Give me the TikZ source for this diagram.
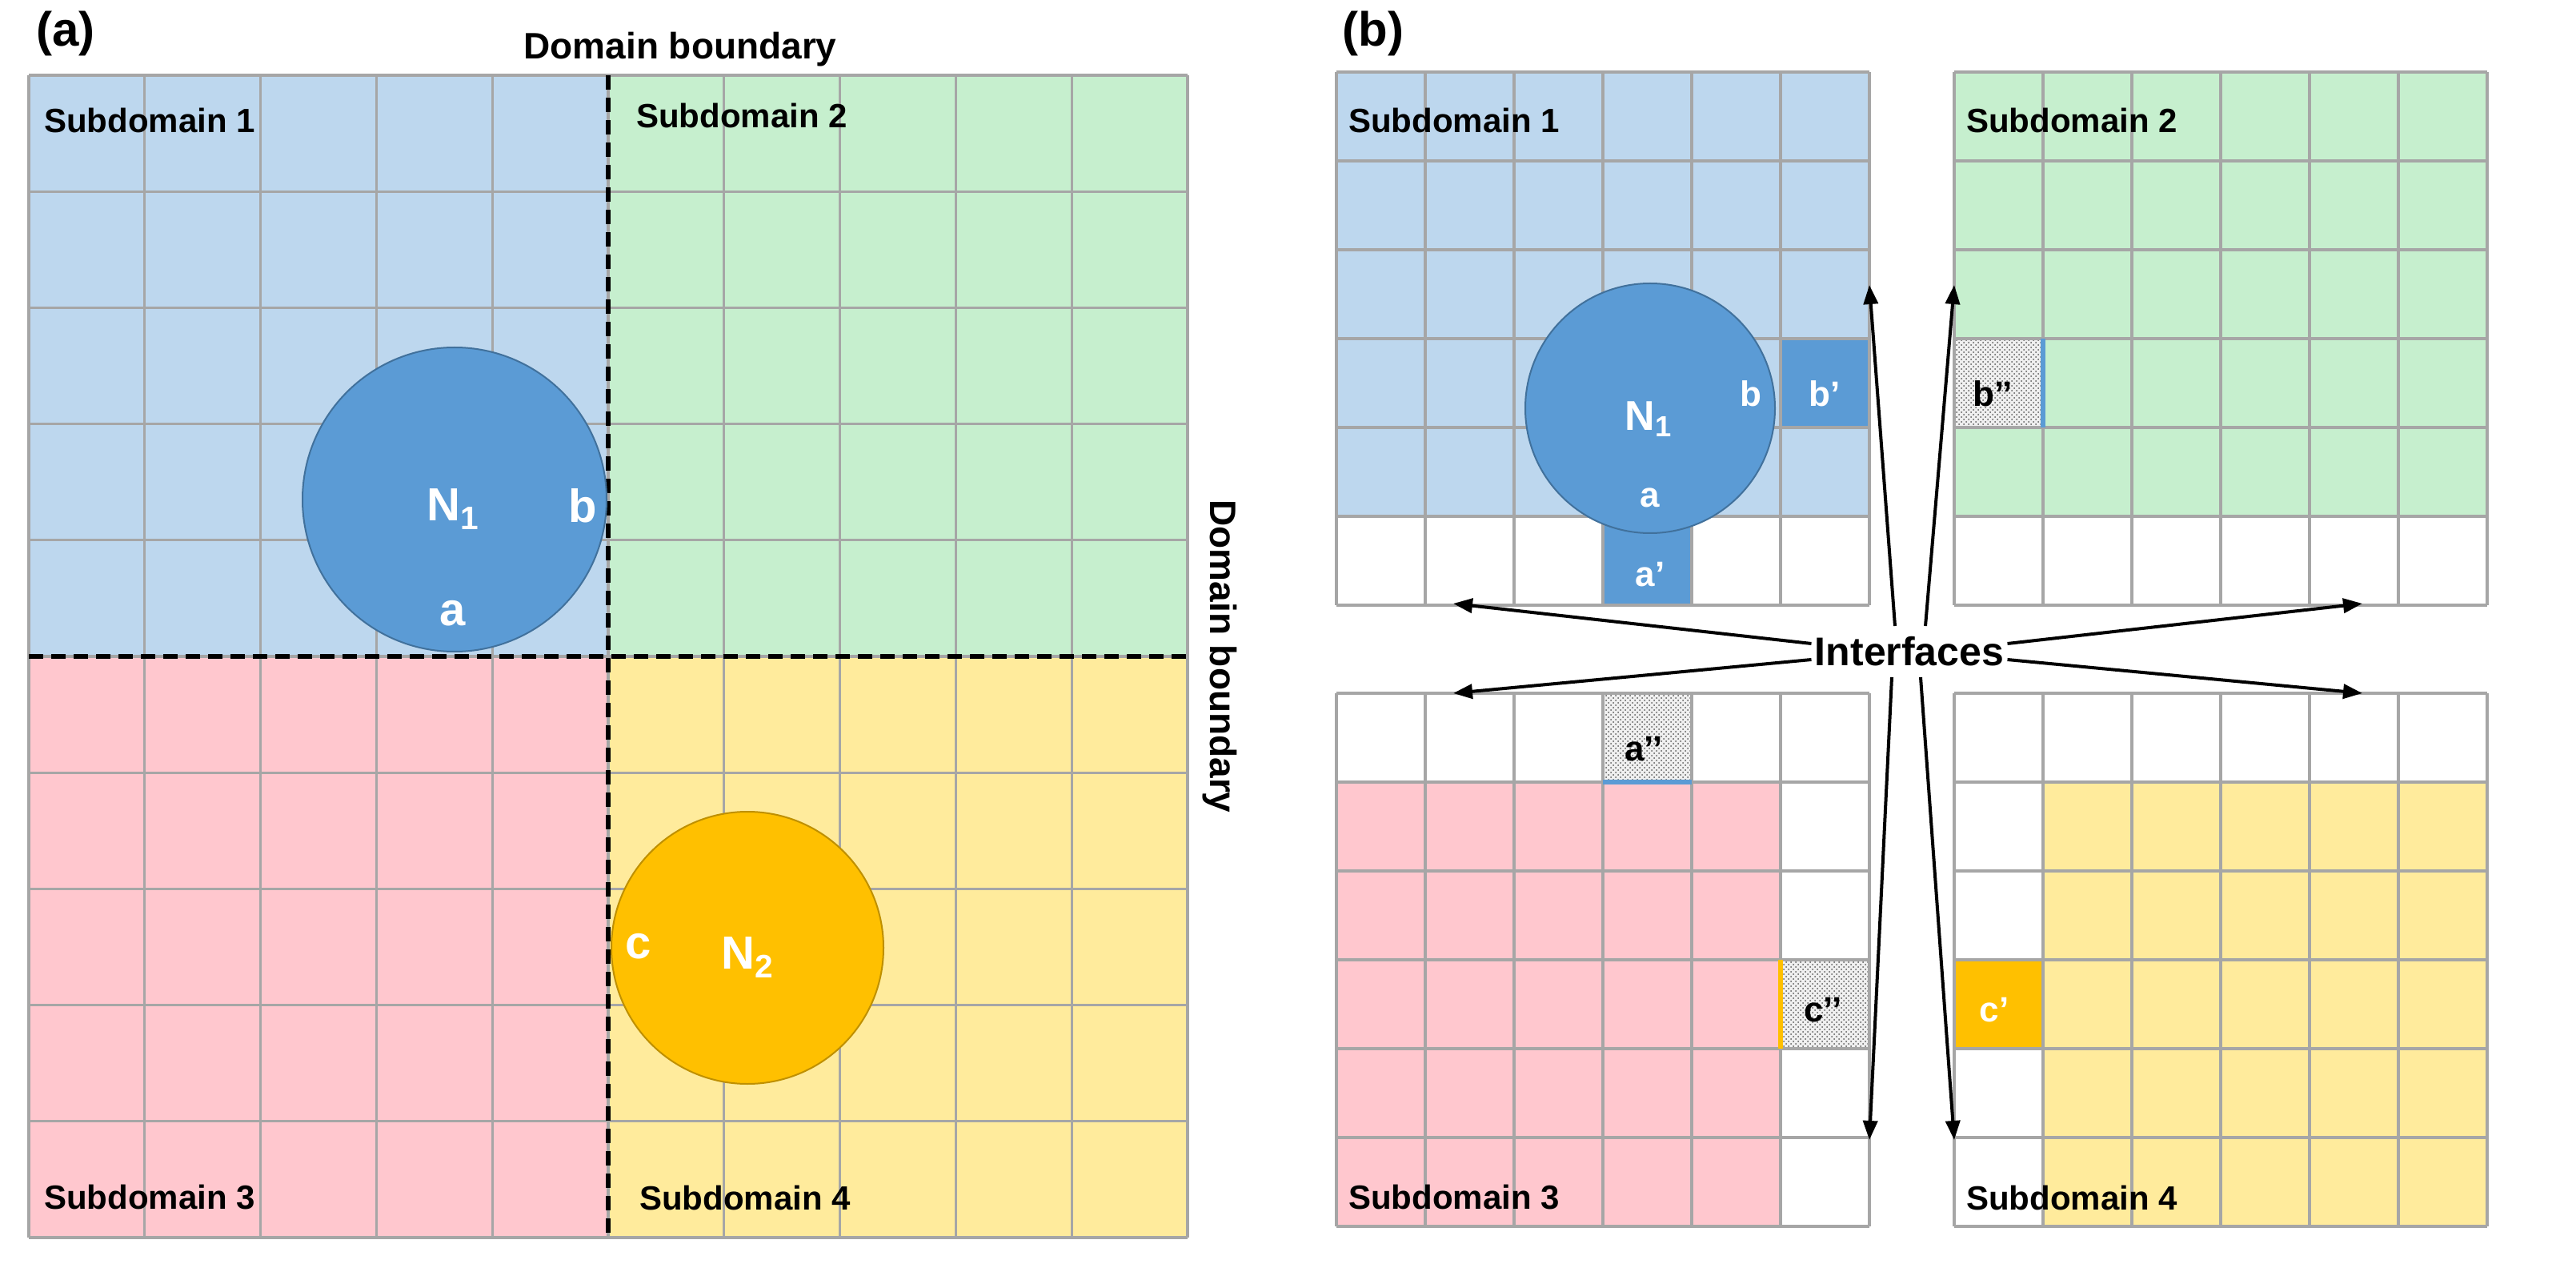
\documentclass[tikz,border=0pt]{standalone}
\usepackage{fontspec}
\setmainfont{Liberation Sans}
\usetikzlibrary{patterns,arrows.meta}
\definecolor{lb}{HTML}{BDD7EE}
\definecolor{lg}{HTML}{C6EFCE}
\definecolor{lp}{HTML}{FFC7CE}
\definecolor{ly}{HTML}{FFEB9C}
\definecolor{db}{HTML}{5B9BD5}
\definecolor{dbe}{HTML}{41719C}
\definecolor{org}{HTML}{FFC000}
\definecolor{orge}{HTML}{BF9000}
\definecolor{gl}{HTML}{A6A6A6}
\begin{document}
\begin{tikzpicture}[x=1pt,y=-1pt,
  grid/.style={draw=gl,line width=1.6pt},
  sub/.style={font=\bfseries\fontsize{21}{24}\selectfont,anchor=west},
  wl/.style={text=white,font=\bfseries\fontsize{29}{32}\selectfont},
  ws/.style={text=white,font=\bfseries\fontsize{22}{25}\selectfont},
  bs/.style={text=black,font=\bfseries\fontsize{22}{25}\selectfont},
  dotc/.style={fill=gray!12,postaction={pattern=crosshatch dots,pattern color=gray!70!black}},
  arr/.style={-{Triangle[length=12pt,width=9pt]},line width=2pt},
  dashb/.style={line width=3pt,dash pattern=on 9pt off 5pt}]
\useasboundingbox (0,0) rectangle (1609.5,802);
% ---------- panel (a)
\fill[lb] (18,47) rectangle (380,410);
\fill[lg] (380,47) rectangle (742,410);
\fill[lp] (18,410) rectangle (380,773);
\fill[ly] (380,410) rectangle (742,773);
\foreach \i in {0,...,10}{
  \draw[grid] ({18+72.4*\i},47) -- ({18+72.4*\i},773);
  \draw[grid] (18,{47+72.6*\i}) -- (742,{47+72.6*\i});}
\draw[dashb] (380,47) -- (380,773);
\draw[dashb] (18,410) -- (742,410);
\node[circle,fill=db,draw=dbe,line width=1pt,minimum size=190pt,inner sep=0] (n1) at (284,312) {};
\node[wl] (n1l) at (283,318) {N\textsubscript{1}};
\node[wl] (bl) at (364,316) {b};
\node[wl] (al) at (283,383) {a};
\node[circle,fill=org,draw=orge,line width=1pt,minimum size=170pt,inner sep=0] (n2) at (467,592) {};
\node[wl] (n2l) at (467,598) {N\textsubscript{2}};
\node[wl] (cl) at (399,591) {c};
\node[font=\bfseries\fontsize{23}{26}\selectfont] (db1) at (425,31) {Domain boundary};
\node[font=\bfseries\fontsize{23}{26}\selectfont,rotate=-90] (db2) at (762,410) {Domain boundary};
\node[font=\bfseries\fontsize{30}{34}\selectfont] (pa) at (41,21) {(a)};
\node[sub] (s1) at (24,75) {Subdomain 1};
\node[sub] (s2) at (394,72) {Subdomain 2};
\node[sub] (s3) at (24,748) {Subdomain 3};
\node[sub] (s4) at (396,748) {Subdomain 4};
% ---------- panel (b)
\node[font=\bfseries\fontsize{30}{34}\selectfont] (pb) at (858,21) {(b)};
% TL
\fill[lb] (835,45) rectangle (1168,322.5);
\fill[db] (1001.5,322.5) rectangle (1057,378);
\fill[db] (1112.5,211.5) rectangle (1168,267);
% TR
\fill[lg] (1221,45) rectangle (1554,322.5);
\draw[dotc,draw=none] (1221,211.5) rectangle (1276.5,267);
% BL
\fill[lp] (835,488.5) rectangle (1112.5,766);
\draw[dotc,draw=none] (1001.5,433) rectangle (1057,488.5);
\draw[dotc,draw=none] (1112.5,599.5) rectangle (1168,655);
% BR
\fill[ly] (1276.5,488.5) rectangle (1554,766);
\fill[org] (1221,599.5) rectangle (1276.5,655);
% grids
\foreach \X in {835,1221}{\foreach \Y in {45,433}{
  \foreach \i in {0,...,6}{
    \draw[grid] ({\X+55.5*\i},\Y) -- ({\X+55.5*\i},\Y+333);
    \draw[grid] (\X,{\Y+55.5*\i}) -- (\X+333,{\Y+55.5*\i});}}}
\draw[db,line width=3pt] (1276.5,211.5) -- (1276.5,267);
\draw[db,line width=3pt] (1001.5,488.5) -- (1057,488.5);
\draw[org,line width=3pt] (1112.5,599.5) -- (1112.5,655);
\node[circle,fill=db,draw=dbe,line width=1pt,minimum size=156pt,inner sep=0] (m1) at (1031,255) {};
\node[wl,font=\bfseries\fontsize{26}{30}\selectfont] (m1l) at (1030,262) {N\textsubscript{1}};
\node[ws] (mb) at (1094,246) {b};
\node[ws] (ma) at (1031,311) {a};
\node[ws] (map) at (1031,359) {a’};
\node[ws] (mbp) at (1140,246) {b’};
\node[bs] (mbpp) at (1245,246) {b’’};
\node[bs] (mapp) at (1027,468) {a’’};
\node[bs] (mcpp) at (1139,631) {c’’};
\node[ws] (mcp) at (1246,631) {c’};
\node[sub] (t1) at (839,75) {Subdomain 1};
\node[sub] (t2) at (1225,75) {Subdomain 2};
\node[sub] (t3) at (839,748) {Subdomain 3};
\node[sub] (t4) at (1225,748) {Subdomain 4};
\node[font=\bfseries\fontsize{25}{28}\selectfont,inner sep=2pt] (int) at (1193,407) {Interfaces};
\coordinate (e1) at (908,377);
\coordinate (e2) at (1476,377);
\coordinate (e3) at (908,433);
\coordinate (e4) at (1476,433);
\coordinate (e5) at (1168,178);
\coordinate (e6) at (1221,178);
\coordinate (e7) at (1168,712);
\coordinate (e8) at (1221,712);
\draw[arr] (int.west) ++(0,-5) -- (e1);
\draw[arr] (int.west) ++(0,5) -- (e3);
\draw[arr] (int.east) ++(0,-5) -- (e2);
\draw[arr] (int.east) ++(0,5) -- (e4);
\draw[arr] (1184,391) -- (e5);
\draw[arr] (1203,391) -- (e6);
\draw[arr] (1182,423) -- (e7);
\draw[arr] (1200,423) -- (e8);
\end{tikzpicture}
\end{document}
